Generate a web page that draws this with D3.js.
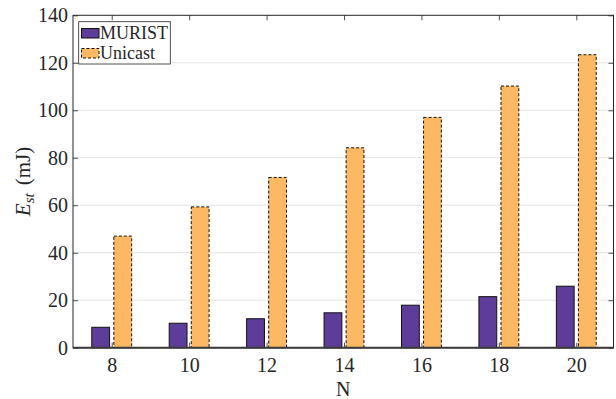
<!DOCTYPE html>
<html>
<head>
<meta charset="utf-8">
<script src="https://cdn.jsdelivr.net/npm/d3@7"></script>
<style>
  html, body { margin: 0; padding: 0; background: #fff; }
  svg { display: block; }
  text { font-family: "Liberation Serif", "DejaVu Serif", serif; fill: #262626; }
</style>
</head>
<body>
<svg id="chart" width="616" height="399"></svg>
<script>
// Energy per node count for the two schemes
const nodes = [8, 10, 12, 14, 16, 18, 20];
const murist = [8.6, 10.3, 12.2, 14.7, 17.9, 21.5, 25.9];
const unicast = [47.0, 59.3, 71.7, 84.2, 97.0, 110.2, 123.4];
const yTicks = [0, 20, 40, 60, 80, 100, 120, 140];
const seriesNames = ["MURIST", "Unicast"];
const colors = ["#5e3c99", "#fdb863"];

const svg = d3.select("#chart");
const plotL = 73, plotR = 613.5, plotT = 15.3, plotB = 347.7;

const x = d3.scaleLinear().domain([7, 21]).range([plotL, plotR + 1.5]);
const y = d3.scaleLinear().domain([0, 140]).range([plotB, plotT]);

const barW = 0.46;   // bar width in x units
const offset = 0.285; // group offset from the tick

// grid
svg.append("g").selectAll("line")
  .data(yTicks.filter(v => v > 0 && v < 140))
  .join("line")
  .attr("x1", plotL).attr("x2", plotR)
  .attr("y1", d => y(d)).attr("y2", d => y(d))
  .attr("stroke", "#e3e3e3").attr("stroke-width", 1);

// bars
const groups = [murist, unicast];
groups.forEach((vals, si) => {
  const g = svg.append("g");
  g.selectAll("rect")
    .data(vals.map((v, i) => ({ n: nodes[i], v })))
    .join("rect")
    .attr("x", d => x(d.n + (si === 0 ? -offset : offset) - barW / 2))
    .attr("width", d => x(d.n + barW) - x(d.n))
    .attr("y", d => y(d.v))
    .attr("height", d => y(0) - y(d.v))
    .attr("fill", colors[si])
    .attr("stroke", "#111")
    .attr("stroke-width", 1)
    .attr("stroke-dasharray", si === 1 ? "3,2" : null);
});

// axes with inward ticks
const tickLen = 5;
const axisColor = "#262626";
const xAxisB = d3.axisBottom(x).tickValues(nodes).tickSizeInner(-tickLen).tickSizeOuter(0).tickPadding(10);
const xAxisT = d3.axisTop(x).tickValues(nodes).tickSizeInner(-tickLen).tickSizeOuter(0).tickFormat("");
const yAxisL = d3.axisLeft(y).tickValues(yTicks).tickSizeInner(-tickLen).tickSizeOuter(0).tickPadding(5);
const yAxisR = d3.axisRight(y).tickValues(yTicks).tickSizeInner(-tickLen).tickSizeOuter(0).tickFormat("");

function style(g) {
  g.attr("font-family", null);
  g.select(".domain").remove();
  g.selectAll(".tick line").attr("stroke", axisColor).attr("stroke-width", 0.8);
  g.selectAll(".tick text").attr("font-size", 20).attr("fill", axisColor);
}
svg.append("g").attr("transform", `translate(0,${plotB})`).call(xAxisB).call(style);
svg.append("g").attr("transform", `translate(0,${plotT})`).call(xAxisT).call(style);
svg.append("g").attr("transform", `translate(${plotL},0)`).call(yAxisL).call(style);
svg.append("g").attr("transform", `translate(${plotR},0)`).call(yAxisR).call(style);

// box
svg.append("rect")
  .attr("x", plotL).attr("y", plotT)
  .attr("width", plotR - plotL).attr("height", plotB - plotT)
  .attr("fill", "none").attr("stroke", axisColor).attr("stroke-width", 1);
svg.append("line")
  .attr("x1", plotL).attr("x2", plotR).attr("y1", plotB).attr("y2", plotB)
  .attr("stroke", "#3a3a3a").attr("stroke-width", 2);

// axis labels
svg.append("text")
  .attr("x", (plotL + plotR) / 2).attr("y", 396)
  .attr("text-anchor", "middle").attr("font-size", 20)
  .text("N");

const yl = svg.append("text")
  .attr("transform", `translate(30,181.5) rotate(-90)`)
  .attr("text-anchor", "middle").attr("font-size", 21);
yl.append("tspan").attr("font-style", "italic").text("E");
yl.append("tspan").attr("font-style", "italic").attr("font-size", 15).attr("dy", 4).text("st");
yl.append("tspan").attr("dy", -4).attr("dx", 8).text("(mJ)");

// legend
const lg = svg.append("g");
lg.append("rect")
  .attr("x", 78.7).attr("y", 21.7).attr("width", 91.6).attr("height", 42.3)
  .attr("fill", "#fff").attr("stroke", axisColor).attr("stroke-width", 0.8);
seriesNames.forEach((name, i) => {
  const yy = 28.5 + i * 20;
  lg.append("rect")
    .attr("x", 81.5).attr("y", yy).attr("width", 17.5).attr("height", 9.5)
    .attr("fill", colors[i]).attr("stroke", "#111").attr("stroke-width", 1)
    .attr("stroke-dasharray", i === 1 ? "3,2" : null);
  lg.append("text")
    .attr("x", 100).attr("y", yy + 10.5).attr("font-size", 18)
    .text(name);
});
</script>
</body>
</html>
